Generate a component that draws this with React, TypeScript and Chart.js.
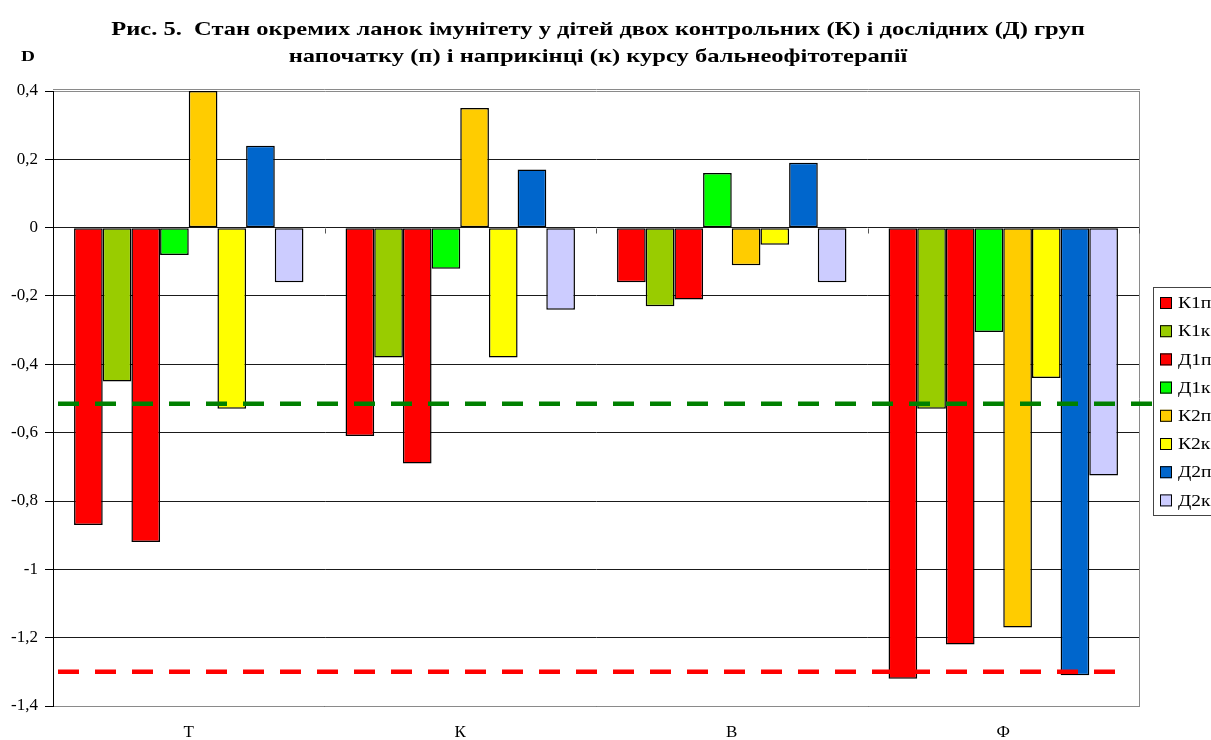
import { useEffect, useRef } from "react";
import { Chart, registerables } from "chart.js";

Chart.register(...registerables);

// Categories (immune links) and series (groups at start / end of course)
const categories = ["Т", "К", "В", "Ф"];
const seriesNames = ["К1п", "К1к", "Д1п", "Д1к", "К2п", "К2к", "Д2п", "Д2к"];

const k1p = [-0.87, -0.61, -0.16, -1.32];
const k1k = [-0.45, -0.38, -0.23, -0.53];
const d1p = [-0.92, -0.69, -0.21, -1.22];
const d1k = [-0.08, -0.12, 0.16, -0.305];
const k2p = [0.4, 0.35, -0.11, -1.17];
const k2k = [-0.53, -0.38, -0.05, -0.44];
const d2p = [0.24, 0.17, 0.19, -1.31];
const d2k = [-0.16, -0.24, -0.16, -0.725];

const seriesValues = [k1p, k1k, d1p, d1k, k2p, k2k, d2p, d2k];
const seriesColors = ["#FF0000", "#99CC00", "#FF0000", "#00FF00", "#FFCC00", "#FFFF00", "#0066CC", "#CCCCFF"];

// Value axis range
const yMin = -1.4;
const yMax = 0.4;
const yStep = 0.2;

// Threshold levels shown as dashed lines
const greenLevel = -0.515;
const redLevel = -1.3;

const titleLines = [
  "Рис. 5.  Стан окремих ланок імунітету у дітей двох контрольних (К) і дослідних (Д) груп",
  "напочатку (п) і наприкінці (к) курсу бальнеофітотерапії",
];
const axisTitle = "D";

const SERIF = '"Liberation Serif", "Times New Roman", serif';

// Draw text widened horizontally by factor sx, anchored at (x, y)
function wideText(ctx: CanvasRenderingContext2D, text: string, x: number, y: number, sx: number) {
  ctx.save();
  ctx.translate(x, y);
  ctx.scale(sx, 1);
  ctx.fillText(text, 0, 0);
  ctx.restore();
}

const decorPlugin = {
  id: "decor",
  afterDatasetsDraw(chart: any) {
    const { ctx, chartArea, scales } = chart;
    const y = scales.y;
    ctx.save();
    // plot border (right + doubled top)
    ctx.strokeStyle = "#8a8a8a";
    ctx.lineWidth = 1;
    ctx.beginPath();
    ctx.moveTo(chartArea.right + 0.5, chartArea.top);
    ctx.lineTo(chartArea.right + 0.5, chartArea.bottom);
    ctx.moveTo(chartArea.left, Math.round(chartArea.top) - 1.5);
    ctx.lineTo(chartArea.right + 1, Math.round(chartArea.top) - 1.5);
    ctx.stroke();

    // category tick marks on the zero line
    const zeroY = Math.round(y.getPixelForValue(0)) + 0.5;
    const catW = (chartArea.right - chartArea.left) / categories.length;
    ctx.strokeStyle = "#555";
    ctx.beginPath();
    for (let i = 1; i <= categories.length; i++) {
      const x = Math.round(chartArea.left + catW * i) + 0.5;
      ctx.moveTo(x, zeroY);
      ctx.lineTo(x, zeroY + 5);
    }
    ctx.stroke();

    // dashed threshold lines
    const drawDash = (level: number, color: string, x0: number, x1: number) => {
      const py = y.getPixelForValue(level);
      ctx.strokeStyle = color;
      ctx.lineWidth = 4.5;
      ctx.setLineDash([21, 16]);
      ctx.beginPath();
      ctx.moveTo(x0, py);
      ctx.lineTo(x1, py);
      ctx.stroke();
      ctx.setLineDash([]);
    };
    drawDash(greenLevel, "#008000", chartArea.left + 5, chart.width);
    drawDash(redLevel, "#FF0000", chartArea.left + 5, chartArea.right - 12);
    ctx.restore();
  },
  afterDraw(chart: any) {
    const { ctx } = chart;
    ctx.save();
    // title
    ctx.fillStyle = "#000";
    ctx.textAlign = "center";
    ctx.textBaseline = "middle";
    ctx.font = `bold 19px ${SERIF}`;
    wideText(ctx, titleLines[0], 598, 30, 1.29);
    wideText(ctx, titleLines[1], 598, 57, 1.29);
    ctx.font = `bold 15px ${SERIF}`;
    wideText(ctx, axisTitle, 28, 57, 1.29);

    // legend
    const lx = 1153.5;
    const ly = 287.5;
    ctx.fillStyle = "#fff";
    ctx.fillRect(lx, ly, 80, 228);
    ctx.strokeStyle = "#444";
    ctx.lineWidth = 1;
    ctx.strokeRect(lx, ly, 80, 228);
    ctx.textAlign = "left";
    ctx.font = `16px ${SERIF}`;
    seriesNames.forEach((name, i) => {
      const cy = 303 + i * 28.2;
      ctx.fillStyle = seriesColors[i];
      ctx.fillRect(1160, cy - 6, 12, 12);
      ctx.strokeStyle = "#000";
      ctx.strokeRect(1160.5, cy - 5.5, 11, 11);
      ctx.fillStyle = "#000";
      wideText(ctx, name, 1178, cy + 1, 1.22);
    });
    ctx.restore();
  },
};

function fmt(v: number): string {
  const r = Math.round(v * 10) / 10;
  return String(r).replace(".", ",");
}

export default function App() {
  const ref = useRef<HTMLCanvasElement | null>(null);

  useEffect(() => {
    if (!ref.current) return;
    const chart = new Chart(ref.current, {
      type: "bar",
      data: {
        labels: categories,
        datasets: seriesNames.map((name, i) => ({
          label: name,
          data: seriesValues[i],
          backgroundColor: seriesColors[i],
          borderColor: "#000",
          borderWidth: 1.5,
          borderSkipped: false,
          categoryPercentage: 0.845,
          barPercentage: 1,
        })),
      },
      options: {
        responsive: false,
        animation: false,
        layout: { padding: { left: 0, top: 91, right: 72, bottom: 0 } },
        plugins: {
          legend: { display: false },
          title: { display: false },
          tooltip: { enabled: false },
        },
        scales: {
          x: {
            grid: { display: false, drawTicks: false },
            border: { display: true, color: "#8a8a8a" },
            ticks: { color: "#000", font: { family: SERIF, size: 17 }, padding: 16 },
            afterFit(scale: any) {
              scale.height = 34;
            },
          },
          y: {
            min: yMin,
            max: yMax,
            ticks: {
              stepSize: yStep,
              color: "#000",
              font: { family: SERIF, size: 17 },
              padding: 7,
              callback: (v: any) => fmt(Number(v)),
            },
            grid: {
              color: (c: any) => (Math.abs(c.tick.value - yMax) < 1e-6 ? "#8a8a8a" : "#1a1a1a"),
              tickLength: 8,
              tickColor: "#000",
              lineWidth: 1,
            },
            border: { display: true, color: "#000" },
            afterFit(scale: any) {
              scale.width = 53;
            },
          },
        },
      },
      plugins: [decorPlugin],
    });
    return () => chart.destroy();
  }, []);

  return (
    <div style={{ position: "fixed", left: 0, top: 0, width: 1211, height: 740, background: "#fff" }}>
      <canvas ref={ref} width={1211} height={740} style={{ display: "block" }} />
    </div>
  );
}
